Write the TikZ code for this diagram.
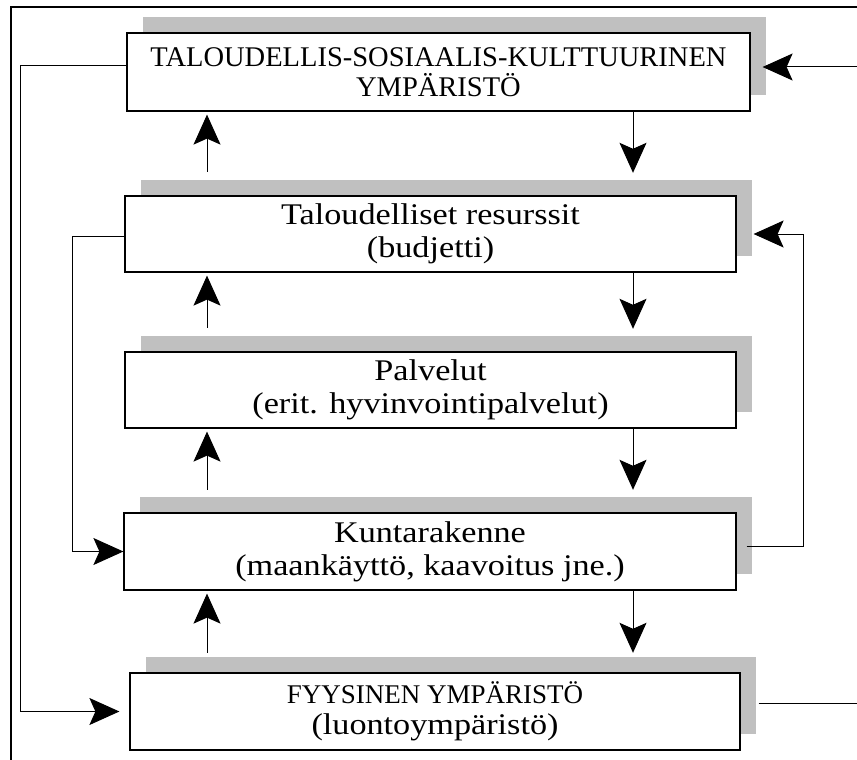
\documentclass[tikz,border=0pt]{standalone}
\usepackage{fontspec}
\setmainfont{Liberation Serif}
\newfontfamily\lowerfont[FakeStretch=1.14]{Liberation Serif}
\usetikzlibrary{arrows.meta}

\definecolor{shadowgray}{RGB}{192,192,192}

\begin{document}
\begin{tikzpicture}[x=1pt,y=-1pt,
  shade/.style={fill=shadowgray, draw=none, inner sep=0pt,
    minimum width=#1, xshift=16pt, yshift=16pt},
  block/.style={draw=black, line width=1.2pt, fill=white, inner sep=0pt,
    minimum width=#1, align=center,
    font=\lowerfont\fontsize{30}{33}\selectfont},
  capsblock/.style={block=#1, font=\rmfamily\fontsize{28.5}{29.5}\selectfont},
  link/.style={draw=black, line width=1pt},
  flow/.style={link, -{Stealth[length=30pt, width=27pt, inset=6pt]}}
]
\useasboundingbox (0,0) rectangle (857,760);

% outer frame (top and left edges)
\coordinate (frameTL) at (11,7);
\coordinate (frameTR) at (857,7);
\coordinate (frameBL) at (11,760);
\draw[line width=1.2pt] (frameTR) -- (frameTL) -- (frameBL);

% shadows
\node[shade=623pt, minimum height=78pt] (b1s) at (438.5,72) {};
\node[shade=611pt, minimum height=76pt] (b2s) at (430.5,234) {};
\node[shade=611pt, minimum height=76pt] (b3s) at (430.5,390) {};
\node[shade=612pt, minimum height=77pt] (b4s) at (430,551.5) {};
\node[shade=610pt, minimum height=77pt] (b5s) at (435,711.5) {};

% boxes
\node[capsblock=623pt, minimum height=78pt] (b1) at (438.5,72)
  {TALOUDELLIS-SOSIAALIS-KULTTUURINEN\\YMPÄRISTÖ};
\node[block=611pt, minimum height=76pt] (b2) at (430.5,234)
  {Taloudelliset resurssit\\(budjetti)};
\node[block=611pt, minimum height=76pt] (b3) at (430.5,390)
  {Palvelut\\(erit. hyvinvointipalvelut)};
\node[block=612pt, minimum height=77pt] (b4) at (430,551.5)
  {Kuntarakenne\\(maankäyttö, kaavoitus jne.)};
\node[block=610pt, minimum height=77pt,
      font=\lowerfont\fontsize{30}{30.5}\selectfont] (b5) at (435,711.5)
  {{\rmfamily\fontsize{27}{30.5}\selectfont FYYSINEN YMPÄRISTÖ}\\(luontoympäristö)};

% columns of the vertical arrows and side loops
\coordinate (ux) at (207,0);
\coordinate (dx) at (633,0);
\coordinate (leftA) at (20,0);
\coordinate (leftB) at (72,0);
\coordinate (rightB) at (803,0);
\coordinate (inR) at (857,67);
\coordinate (outR) at (857,703);

% upward arrows
\draw[flow, shorten <=8pt, shorten >=3pt] (b2s.north -| ux) -- (b1.south -| ux);
\draw[flow, shorten <=8pt, shorten >=3pt] (b3s.north -| ux) -- (b2.south -| ux);
\draw[flow, shorten <=7pt, shorten >=3pt] (b4s.north -| ux) -- (b3.south -| ux);
\draw[flow, shorten <=4pt, shorten >=3pt] (b5s.north -| ux) -- (b4.south -| ux);

% downward arrows
\draw[flow, shorten >=7pt] (b1.south -| dx) -- (b2s.north -| dx);
\draw[flow, shorten >=7pt] (b2.south -| dx) -- (b3s.north -| dx);
\draw[flow, shorten >=7pt] (b3.south -| dx) -- (b4s.north -| dx);
\draw[flow, shorten >=4pt] (b4.south -| dx) -- (b5s.north -| dx);

% left loops
\draw[flow, shorten >=10pt] ([yshift=6pt]b1.west) -| (leftA |- b5.west) -- (b5.west);
\draw[flow] ([yshift=-2pt]b2.west) -| (leftB |- b4.west) -- (b4.west);

% right loop and external links
\draw[flow] ([xshift=10pt,yshift=5.5pt]b4.east) -| (rightB |- b2.east)
  -- ([xshift=17pt]b2.east);
\draw[flow] (inR) -- ([xshift=12pt]b1.east |- inR);
\draw[link] ([xshift=18pt]b5.east |- outR) -- (outR);
\end{tikzpicture}
\end{document}
